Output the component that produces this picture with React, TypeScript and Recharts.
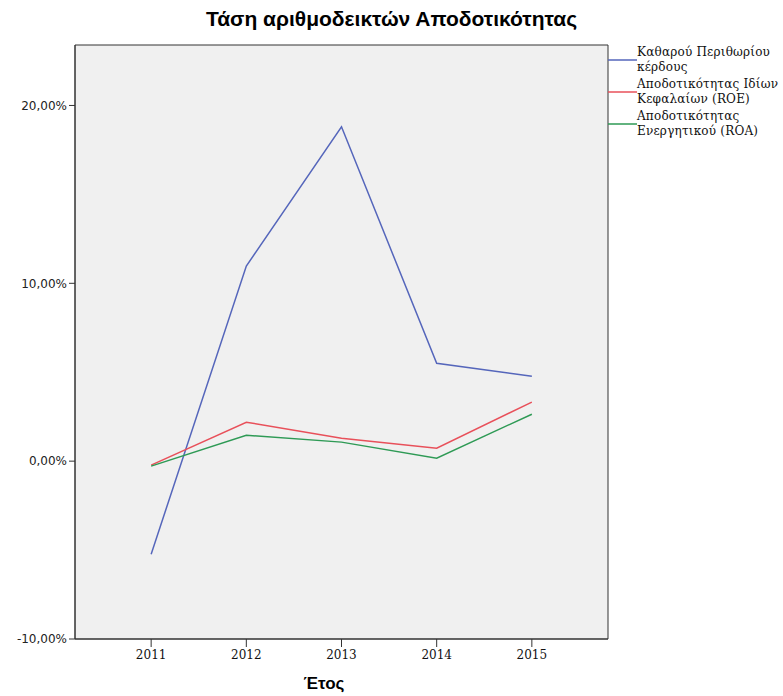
import {
  LineChart, Line, XAxis, YAxis, ReferenceArea,
} from 'recharts';

const years = [2011, 2012, 2013, 2014, 2015];
const netMargin = [-5.23, 10.97, 18.8, 5.5, 4.78];
const roe = [-0.22, 2.19, 1.29, 0.73, 3.32];
const roa = [-0.28, 1.46, 1.07, 0.17, 2.64];
const yTicks = [-10, 0, 10, 20];

const SERIES = [
  { key: 'net', lines: ['Καθαρού Περιθωρίου', 'κέρδους'], color: '#5566bb' },
  { key: 'roe', lines: ['Αποδοτικότητας Ιδίων', 'Κεφαλαίων (ROE)'], color: '#e8505a' },
  { key: 'roa', lines: ['Αποδοτικότητας', 'Ενεργητικού (ROA)'], color: '#2e9a55' },
];

const data = years.map((y, i) => ({ year: y, net: netMargin[i], roe: roe[i], roa: roa[i] }));

const fmt = (v: number) => `${v.toFixed(2).replace('.', ',')}%`;

function LegendBox() {
  return (
    <div style={{
      position: 'absolute', left: 608, top: 44, width: 175,
      fontFamily: '"DejaVu Serif", serif', fontSize: 12, letterSpacing: 0.2, color: '#111',
    }}>
      {SERIES.map((s) => (
        <div key={s.key} style={{ display: 'flex', alignItems: 'center', height: 32 }}>
          <svg width={29} height={4} style={{ flex: 'none' }}>
            <line x1={0} y1={2} x2={29} y2={2} stroke={s.color} strokeWidth={1.5} />
          </svg>
          <div style={{ lineHeight: '15px', whiteSpace: 'nowrap' }}>
            {s.lines.map((l) => <div key={l}>{l}</div>)}
          </div>
        </div>
      ))}
    </div>
  );
}

export default function App() {
  return (
    <div style={{ position: 'absolute', left: 0, top: 0, width: 783, height: 696, background: '#fff' }}>
      <div style={{
        position: 'absolute', top: 7, width: 783, textAlign: 'center',
        fontFamily: '"Liberation Sans", Arial, sans-serif', fontWeight: 'bold', fontSize: 21,
      }}>
        Τάση αριθμοδεικτών Αποδοτικότητας
      </div>
      <LineChart width={783} height={696} data={data} margin={{ top: 45, right: 175, bottom: 0, left: 0 }}>
        <ReferenceArea x1={2010.2} x2={2015.8} y1={-10} y2={23.4} fill="#f0f0f0" fillOpacity={1} stroke="#333" strokeWidth={1} />
        <XAxis
          dataKey="year" type="number" domain={[2010.2, 2015.8]} ticks={years} height={57}
          axisLine={{ stroke: '#333' }} tickLine={{ stroke: '#333' }} tickSize={8} tickMargin={3}
          tick={{ fontFamily: '"DejaVu Serif", serif', fontSize: 12, fill: '#111' }}
          allowDataOverflow
        />
        <YAxis
          type="number" domain={[-10, 23.4]} ticks={yTicks} width={75} tickFormatter={fmt}
          axisLine={{ stroke: '#333' }} tickLine={{ stroke: '#333' }} tickSize={6} tickMargin={2}
          tick={{ fontFamily: '"DejaVu Sans", sans-serif', fontSize: 12, fill: '#222' }}
          allowDataOverflow
        />
        {SERIES.map((s) => (
          <Line key={s.key} dataKey={s.key} stroke={s.color} strokeWidth={1.5} dot={false} isAnimationActive={false} type="linear" />
        ))}
      </LineChart>
      <LegendBox />
      <div style={{
        position: 'absolute', top: 674, left: 224, width: 200, textAlign: 'center',
        fontFamily: '"Liberation Sans", Arial, sans-serif', fontWeight: 'bold', fontSize: 17,
      }}>
        Έτος
      </div>
    </div>
  );
}
